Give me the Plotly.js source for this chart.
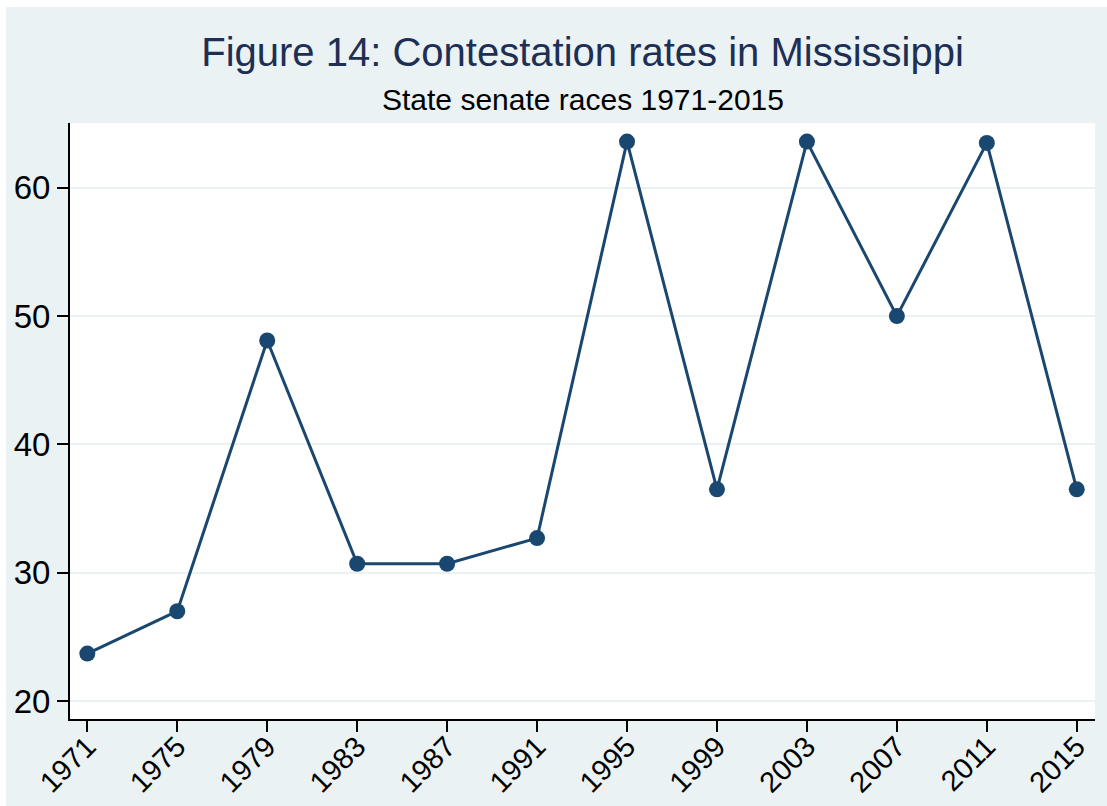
<!DOCTYPE html>
<html>
<head>
<meta charset="utf-8">
<script src="https://cdn.plot.ly/plotly-3.0.1.min.js"></script>
<style>
  html, body { margin: 0; padding: 0; background: #ffffff; }
  #chart { position: absolute; left: 6px; top: 7px; width: 1101px; height: 799px; }
</style>
</head>
<body>
<div id="chart"></div>
<script>
const years = [1971, 1975, 1979, 1983, 1987, 1991, 1995, 1999, 2003, 2007, 2011, 2015];
const rates = [23.7, 27.0, 48.1, 30.7, 30.7, 32.7, 63.6, 36.5, 63.6, 50.0, 63.5, 36.5];
const yTicks = [20, 30, 40, 50, 60];
const xTickLabels = years.map(String);
const titleText = "Figure 14: Contestation rates in Mississippi";
const subtitleText = "State senate races 1971-2015";

const bg = "#eaf2f3";
const navy = "#1a476f";
const FAM = "Liberation Sans, Arial, sans-serif";

const trace = {
  x: years,
  y: rates,
  type: "scatter",
  mode: "lines+markers",
  line: { color: navy, width: 3 },
  marker: { color: navy, size: 16 },
  hoverinfo: "x+y"
};

const layout = {
  width: 1101,
  height: 799,
  paper_bgcolor: bg,
  plot_bgcolor: "#ffffff",
  margin: { l: 64, r: 12, t: 116, b: 87, pad: 0 },
  showlegend: false,
  font: { family: FAM, color: "#000000", size: 26 },
  title: {
    text: titleText,
    font: { size: 40, color: "#1e2f55", family: FAM },
    xref: "paper", x: 0.5, xanchor: "center",
    yref: "container", y: 1 - (52 - 7) / 799, yanchor: "middle"
  },
  annotations: [{
    text: subtitleText,
    xref: "paper", yref: "paper",
    x: 0.5, y: 1 + 24 / 596,
    xanchor: "center", yanchor: "middle",
    showarrow: false,
    font: { size: 30, color: "#000000", family: FAM }
  }],
  xaxis: {
    range: [1970.23, 2015.81],
    tickmode: "array",
    tickvals: years,
    ticktext: xTickLabels,
    tickangle: -45,
    ticks: "outside",
    ticklen: 11,
    tickwidth: 2,
    tickcolor: "#000000",
    tickfont: { size: 29, color: "#000000", family: FAM },
    ticklabelstandoff: -14,
    showgrid: false,
    zeroline: false,
    showline: true,
    linecolor: "#000000",
    linewidth: 2,
    mirror: false,
    automargin: false
  },
  yaxis: {
    range: [18.6, 65.05],
    tickmode: "array",
    tickvals: yTicks,
    ticktext: yTicks.map(String),
    ticks: "outside",
    ticklen: 11,
    tickwidth: 2,
    tickcolor: "#000000",
    tickfont: { size: 33, color: "#000000", family: FAM },
    showgrid: true,
    gridcolor: bg,
    gridwidth: 2,
    zeroline: false,
    showline: true,
    linecolor: "#000000",
    linewidth: 2,
    mirror: false,
    automargin: false
  }
};

Plotly.newPlot("chart", [trace], layout, { displayModeBar: false, responsive: false });
</script>
</body>
</html>
